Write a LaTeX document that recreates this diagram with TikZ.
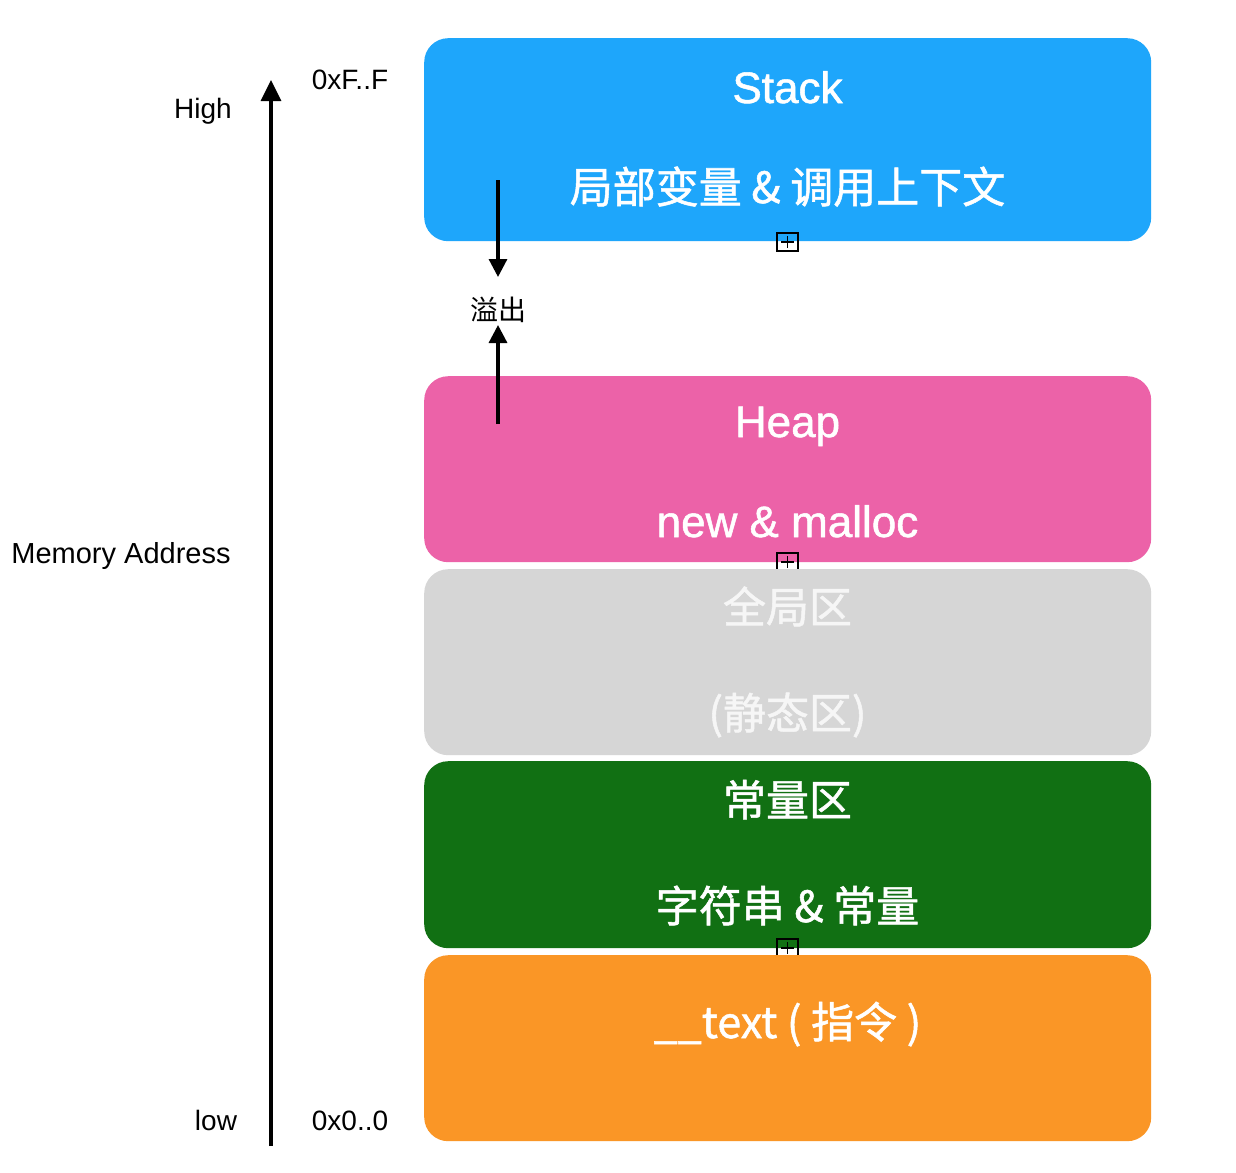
\documentclass[tikz,border=0pt]{standalone}
\usepackage{fontspec}
\setmainfont{Liberation Sans}
\newfontfamily\cjk{Noto Sans CJK SC}
\newfontfamily\medsans{Liberation Sans}[FakeBold=1.2]
\newfontfamily\medcjk{Noto Sans CJK SC}[FakeBold=1.2]
\usetikzlibrary{arrows.meta}
\definecolor{stackblue}{RGB}{30,166,251}
\definecolor{heappink}{RGB}{236,98,168}
\definecolor{globalgray}{RGB}{214,214,214}
\definecolor{globaltext}{RGB}{246,246,246}
\definecolor{constgreen}{RGB}{17,112,19}
\definecolor{textorange}{RGB}{250,150,38}
\begin{document}
\begin{tikzpicture}[x=1pt,y=-1pt,
  seg/.style={fill=#1, draw=none, rounded corners=24pt, minimum width=727pt, inner sep=0pt, anchor=north west},
  boxtxt/.style={text=white, anchor=base, inner sep=0pt, font=\medsans\fontsize{44}{48}\selectfont},
  boxcjk/.style={text=white, anchor=base, inner sep=0pt, font=\medcjk\fontsize{43}{48}\selectfont},
  lbl/.style={text=black, inner sep=0pt, font=\fontsize{28}{32}\selectfont},
  plusbox/.style={draw=black, line width=2.2pt, minimum width=21pt, minimum height=18pt, inner sep=0pt,
    path picture={\draw[line width=1.8pt] ([xshift=4pt]path picture bounding box.west) -- ([xshift=-4pt]path picture bounding box.east)
      ([yshift=3pt]path picture bounding box.south) -- ([yshift=-3pt]path picture bounding box.north);}},
  axis/.style={line width=3.2pt, -{Triangle[width=20pt,length=21pt]}},
  ovarrow/.style={line width=3.2pt, -{Triangle[width=18pt,length=18pt]}}
]
\useasboundingbox[fill=white] (0,0) rectangle (1236,1172);

% segments
\node[seg=stackblue, minimum height=203pt] (stack) at (424,38) {};
\node[boxtxt] (stackT) at (787.5,103) {Stack};
\node[boxcjk] (stackS) at (787.5,203) {局部变量 \& 调用上下文};
\node[plusbox] (p1) at (787.5,242) {};

\node[seg=heappink, minimum height=186pt] (heap) at (424,376) {};
\node[boxtxt] (heapT) at (787.5,437) {Heap};
\node[boxtxt] (heapS) at (787.5,537) {new \& malloc};
\node[plusbox] (p2) at (787.5,562) {};

\node[seg=globalgray, minimum height=186pt] (global) at (424,569) {};
\node[boxcjk, text=globaltext] (globalT) at (787.5,623) {全局区};
\node[boxcjk, text=globaltext] (globalS) at (787.5,729) {(静态区)};

\node[seg=constgreen, minimum height=187pt] (const) at (424,761) {};
\node[boxcjk] (constT) at (787.5,816) {常量区};
\node[boxcjk] (constS) at (787.5,922) {字符串 \& 常量};
\node[plusbox] (p3) at (787.5,948) {};

\node[seg=textorange, minimum height=186pt] (textseg) at (424,955) {};
\node[boxcjk] (textT) at (787.5,1038) {\_\_text ( 指令 )};

% axis
\coordinate (axbot) at (271,1146);
\coordinate (axtop) at (271,80);
\draw[axis] (axbot) -- (axtop);

\node[lbl, anchor=base] (high) at (203,118) {High};
\node[lbl, anchor=base] (hiaddr) at (350,89) {0xF..F};
\node[lbl, anchor=base, font=\fontsize{29}{32}\selectfont] (memaddr) at (121,563) {Memory Address};
\node[lbl, anchor=base] (low) at (216,1130) {low};
\node[lbl, anchor=base] (loaddr) at (350,1130) {0x0..0};

% overflow
\node[inner sep=0pt, font=\cjk\fontsize{28}{32}\selectfont, anchor=base] (ovf) at (498,320) {溢出};
\coordinate (o1s) at (498,180);
\coordinate (o1e) at (498,277);
\coordinate (o2s) at (498,424);
\coordinate (o2e) at (498,325);
\draw[ovarrow] (o1s) -- (o1e);
\draw[ovarrow] (o2s) -- (o2e);
\end{tikzpicture}
\end{document}
